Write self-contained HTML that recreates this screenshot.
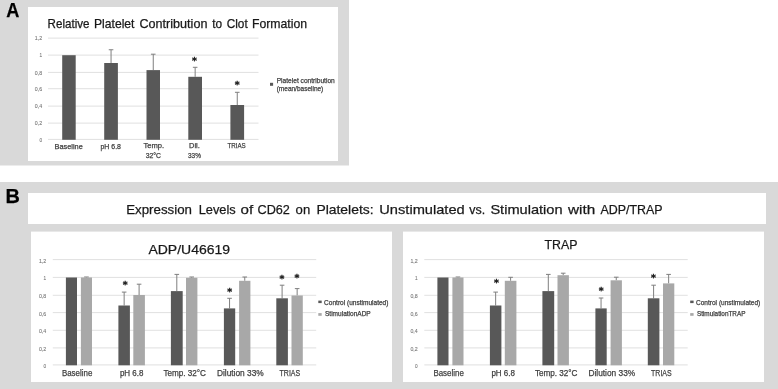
<!DOCTYPE html>
<html lang="en">
<head>
<meta charset="utf-8">
<title>Figure: Platelet contribution and CD62 expression</title>
<style>
html,body{margin:0;padding:0;background:#ffffff;}
body{width:778px;height:389px;overflow:hidden;}
svg{display:block;font-family:'Liberation Sans', Arial, sans-serif;}
</style>
</head>
<body>
<svg width="778" height="389" viewBox="0 0 778 389" style="font-family:'Liberation Sans',Arial,sans-serif">
<rect x="0.00" y="0.00" width="349.00" height="165.50" fill="#d9d9d9"/>
<rect x="0.00" y="182.00" width="778.00" height="207.00" fill="#d9d9d9"/>
<defs><filter id="soft" x="-2%" y="-2%" width="104%" height="104%" filterUnits="objectBoundingBox"><feGaussianBlur stdDeviation="0.32"/></filter></defs>
<g filter="url(#soft)">
<rect x="28.00" y="7.00" width="310.00" height="154.00" fill="#ffffff"/>
<text x="6.20" y="17.10" font-size="20.93" fill="#000" stroke="#000" stroke-width="0.25" font-weight="bold" textLength="13.10" lengthAdjust="spacingAndGlyphs">A</text>
<text x="47.60" y="28.00" font-size="11.92" fill="#1a1a1a" stroke="#1a1a1a" stroke-width="0.25" font-weight="normal" textLength="41.90" lengthAdjust="spacingAndGlyphs">Relative</text>
<text x="94.00" y="28.00" font-size="11.92" fill="#1a1a1a" stroke="#1a1a1a" stroke-width="0.25" font-weight="normal" textLength="40.50" lengthAdjust="spacingAndGlyphs">Platelet</text>
<text x="139.50" y="28.00" font-size="11.92" fill="#1a1a1a" stroke="#1a1a1a" stroke-width="0.25" font-weight="normal" textLength="67.90" lengthAdjust="spacingAndGlyphs">Contribution</text>
<text x="212.30" y="28.00" font-size="11.92" fill="#1a1a1a" stroke="#1a1a1a" stroke-width="0.25" font-weight="normal" textLength="9.90" lengthAdjust="spacingAndGlyphs">to</text>
<text x="226.70" y="28.00" font-size="11.92" fill="#1a1a1a" stroke="#1a1a1a" stroke-width="0.25" font-weight="normal" textLength="21.00" lengthAdjust="spacingAndGlyphs">Clot</text>
<text x="251.90" y="28.00" font-size="11.92" fill="#1a1a1a" stroke="#1a1a1a" stroke-width="0.25" font-weight="normal" textLength="55.20" lengthAdjust="spacingAndGlyphs">Formation</text>
<line x1="48.00" y1="38.10" x2="258.50" y2="38.10" stroke="#dadada" stroke-width="0.85"/>
<text x="34.80" y="40.25" font-size="5.96" fill="#777777" stroke="#777777" stroke-width="0.1" font-weight="normal" textLength="7.30" lengthAdjust="spacingAndGlyphs">1,2</text>
<line x1="48.00" y1="55.10" x2="258.50" y2="55.10" stroke="#dadada" stroke-width="0.85"/>
<text x="39.50" y="57.25" font-size="5.96" fill="#777777" stroke="#777777" stroke-width="0.1" font-weight="normal" textLength="2.60" lengthAdjust="spacingAndGlyphs">1</text>
<line x1="48.00" y1="72.40" x2="258.50" y2="72.40" stroke="#dadada" stroke-width="0.85"/>
<text x="34.80" y="74.55" font-size="5.96" fill="#777777" stroke="#777777" stroke-width="0.1" font-weight="normal" textLength="7.30" lengthAdjust="spacingAndGlyphs">0,8</text>
<line x1="48.00" y1="88.70" x2="258.50" y2="88.70" stroke="#dadada" stroke-width="0.85"/>
<text x="34.80" y="90.85" font-size="5.96" fill="#777777" stroke="#777777" stroke-width="0.1" font-weight="normal" textLength="7.30" lengthAdjust="spacingAndGlyphs">0,6</text>
<line x1="48.00" y1="106.10" x2="258.50" y2="106.10" stroke="#dadada" stroke-width="0.85"/>
<text x="34.80" y="108.25" font-size="5.96" fill="#777777" stroke="#777777" stroke-width="0.1" font-weight="normal" textLength="7.30" lengthAdjust="spacingAndGlyphs">0,4</text>
<line x1="48.00" y1="123.10" x2="258.50" y2="123.10" stroke="#dadada" stroke-width="0.85"/>
<text x="34.80" y="125.25" font-size="5.96" fill="#777777" stroke="#777777" stroke-width="0.1" font-weight="normal" textLength="7.30" lengthAdjust="spacingAndGlyphs">0,2</text>
<line x1="48.00" y1="139.40" x2="258.50" y2="139.40" stroke="#dadada" stroke-width="0.85"/>
<text x="39.50" y="141.55" font-size="5.96" fill="#777777" stroke="#777777" stroke-width="0.1" font-weight="normal" textLength="2.60" lengthAdjust="spacingAndGlyphs">0</text>
<rect x="62.20" y="55.20" width="13.50" height="84.60" fill="#595959"/>
<line x1="111.05" y1="63.00" x2="111.05" y2="49.75" stroke="#7f7f7f" stroke-width="1.0"/>
<line x1="108.75" y1="49.75" x2="113.35" y2="49.75" stroke="#7f7f7f" stroke-width="1.0"/>
<rect x="104.20" y="63.00" width="13.70" height="76.80" fill="#595959"/>
<line x1="153.25" y1="70.10" x2="153.25" y2="54.20" stroke="#7f7f7f" stroke-width="1.0"/>
<line x1="150.95" y1="54.20" x2="155.55" y2="54.20" stroke="#7f7f7f" stroke-width="1.0"/>
<rect x="146.50" y="70.10" width="13.50" height="69.70" fill="#595959"/>
<line x1="195.15" y1="76.80" x2="195.15" y2="67.30" stroke="#7f7f7f" stroke-width="1.0"/>
<line x1="192.85" y1="67.30" x2="197.45" y2="67.30" stroke="#7f7f7f" stroke-width="1.0"/>
<rect x="188.30" y="76.80" width="13.70" height="63.00" fill="#595959"/>
<line x1="237.25" y1="105.00" x2="237.25" y2="92.30" stroke="#7f7f7f" stroke-width="1.0"/>
<line x1="234.95" y1="92.30" x2="239.55" y2="92.30" stroke="#7f7f7f" stroke-width="1.0"/>
<rect x="230.40" y="105.00" width="13.70" height="34.80" fill="#595959"/>
<text x="192.00" y="64.22" font-size="9.32" fill="#111" font-family="DejaVu Sans, sans-serif" font-weight="bold" stroke="#111" stroke-width="0.3">*</text>
<text x="234.80" y="87.62" font-size="9.32" fill="#111" font-family="DejaVu Sans, sans-serif" font-weight="bold" stroke="#111" stroke-width="0.3">*</text>
<text x="54.50" y="148.90" font-size="7.49" fill="#404040" stroke="#404040" stroke-width="0.25" font-weight="normal" textLength="28.30" lengthAdjust="spacingAndGlyphs">Baseline</text>
<text x="100.50" y="148.90" font-size="7.49" fill="#404040" stroke="#404040" stroke-width="0.25" font-weight="normal" textLength="20.50" lengthAdjust="spacingAndGlyphs">pH 6.8</text>
<text x="143.50" y="148.40" font-size="7.49" fill="#404040" stroke="#404040" stroke-width="0.25" font-weight="normal" textLength="20.70" lengthAdjust="spacingAndGlyphs">Temp.</text>
<text x="145.70" y="157.80" font-size="7.49" fill="#404040" stroke="#404040" stroke-width="0.25" font-weight="normal" textLength="15.30" lengthAdjust="spacingAndGlyphs">32°C</text>
<text x="189.00" y="148.40" font-size="7.49" fill="#404040" stroke="#404040" stroke-width="0.25" font-weight="normal" textLength="10.80" lengthAdjust="spacingAndGlyphs">Dil.</text>
<text x="188.00" y="157.80" font-size="7.49" fill="#404040" stroke="#404040" stroke-width="0.25" font-weight="normal" textLength="12.90" lengthAdjust="spacingAndGlyphs">33%</text>
<text x="227.40" y="148.40" font-size="7.49" fill="#404040" stroke="#404040" stroke-width="0.25" font-weight="normal" textLength="18.30" lengthAdjust="spacingAndGlyphs">TRIAS</text>
<rect x="270.00" y="82.80" width="3.10" height="3.00" fill="#595959"/>
<text x="276.70" y="82.90" font-size="6.98" fill="#404040" stroke="#404040" stroke-width="0.25" font-weight="normal" textLength="58.10" lengthAdjust="spacingAndGlyphs">Platelet contribution</text>
<text x="276.70" y="90.60" font-size="6.98" fill="#404040" stroke="#404040" stroke-width="0.25" font-weight="normal" textLength="46.60" lengthAdjust="spacingAndGlyphs">(mean/baseline)</text>
<rect x="28.00" y="193.00" width="738.00" height="31.00" fill="#ffffff"/>
<text x="5.50" y="202.90" font-size="20.35" fill="#000" stroke="#000" stroke-width="0.25" font-weight="bold" textLength="14.40" lengthAdjust="spacingAndGlyphs">B</text>
<text x="126.20" y="213.80" font-size="13.37" fill="#1a1a1a" stroke="#1a1a1a" stroke-width="0.25" font-weight="normal" textLength="65.80" lengthAdjust="spacingAndGlyphs">Expression</text>
<text x="198.70" y="213.80" font-size="13.37" fill="#1a1a1a" stroke="#1a1a1a" stroke-width="0.25" font-weight="normal" textLength="37.00" lengthAdjust="spacingAndGlyphs">Levels</text>
<text x="240.50" y="213.80" font-size="13.37" fill="#1a1a1a" stroke="#1a1a1a" stroke-width="0.25" font-weight="normal" textLength="12.60" lengthAdjust="spacingAndGlyphs">of</text>
<text x="257.50" y="213.80" font-size="13.37" fill="#1a1a1a" stroke="#1a1a1a" stroke-width="0.25" font-weight="normal" textLength="32.40" lengthAdjust="spacingAndGlyphs">CD62</text>
<text x="295.60" y="213.80" font-size="13.37" fill="#1a1a1a" stroke="#1a1a1a" stroke-width="0.25" font-weight="normal" textLength="14.60" lengthAdjust="spacingAndGlyphs">on</text>
<text x="316.40" y="213.80" font-size="13.37" fill="#1a1a1a" stroke="#1a1a1a" stroke-width="0.25" font-weight="normal" textLength="57.20" lengthAdjust="spacingAndGlyphs">Platelets:</text>
<text x="379.30" y="213.80" font-size="13.37" fill="#1a1a1a" stroke="#1a1a1a" stroke-width="0.25" font-weight="normal" textLength="85.40" lengthAdjust="spacingAndGlyphs">Unstimulated</text>
<text x="469.30" y="213.80" font-size="13.37" fill="#1a1a1a" stroke="#1a1a1a" stroke-width="0.25" font-weight="normal" textLength="15.90" lengthAdjust="spacingAndGlyphs">vs.</text>
<text x="490.40" y="213.80" font-size="13.37" fill="#1a1a1a" stroke="#1a1a1a" stroke-width="0.25" font-weight="normal" textLength="72.20" lengthAdjust="spacingAndGlyphs">Stimulation</text>
<text x="568.00" y="213.80" font-size="13.37" fill="#1a1a1a" stroke="#1a1a1a" stroke-width="0.25" font-weight="normal" textLength="27.20" lengthAdjust="spacingAndGlyphs">with</text>
<text x="600.40" y="213.80" font-size="13.37" fill="#1a1a1a" stroke="#1a1a1a" stroke-width="0.25" font-weight="normal" textLength="62.20" lengthAdjust="spacingAndGlyphs">ADP/TRAP</text>
<rect x="31.00" y="231.60" width="361.00" height="150.40" fill="#ffffff"/>
<text x="148.40" y="254.00" font-size="13.66" fill="#1a1a1a" stroke="#1a1a1a" stroke-width="0.25" font-weight="normal" textLength="81.70" lengthAdjust="spacingAndGlyphs">ADP/U46619</text>
<line x1="52.80" y1="259.60" x2="316.20" y2="259.60" stroke="#dadada" stroke-width="0.85"/>
<text x="38.90" y="262.60" font-size="5.96" fill="#777777" stroke="#777777" stroke-width="0.1" font-weight="normal" textLength="7.30" lengthAdjust="spacingAndGlyphs">1,2</text>
<line x1="52.80" y1="277.40" x2="316.20" y2="277.40" stroke="#dadada" stroke-width="0.85"/>
<text x="43.60" y="280.40" font-size="5.96" fill="#777777" stroke="#777777" stroke-width="0.1" font-weight="normal" textLength="2.60" lengthAdjust="spacingAndGlyphs">1</text>
<line x1="52.80" y1="295.30" x2="316.20" y2="295.30" stroke="#dadada" stroke-width="0.85"/>
<text x="38.90" y="298.30" font-size="5.96" fill="#777777" stroke="#777777" stroke-width="0.1" font-weight="normal" textLength="7.30" lengthAdjust="spacingAndGlyphs">0,8</text>
<line x1="52.80" y1="312.60" x2="316.20" y2="312.60" stroke="#dadada" stroke-width="0.85"/>
<text x="38.90" y="315.60" font-size="5.96" fill="#777777" stroke="#777777" stroke-width="0.1" font-weight="normal" textLength="7.30" lengthAdjust="spacingAndGlyphs">0,6</text>
<line x1="52.80" y1="330.30" x2="316.20" y2="330.30" stroke="#dadada" stroke-width="0.85"/>
<text x="38.90" y="333.30" font-size="5.96" fill="#777777" stroke="#777777" stroke-width="0.1" font-weight="normal" textLength="7.30" lengthAdjust="spacingAndGlyphs">0,4</text>
<line x1="52.80" y1="347.90" x2="316.20" y2="347.90" stroke="#dadada" stroke-width="0.85"/>
<text x="38.90" y="350.90" font-size="5.96" fill="#777777" stroke="#777777" stroke-width="0.1" font-weight="normal" textLength="7.30" lengthAdjust="spacingAndGlyphs">0,2</text>
<line x1="52.80" y1="364.90" x2="316.20" y2="364.90" stroke="#dadada" stroke-width="0.85"/>
<text x="43.60" y="367.90" font-size="5.96" fill="#777777" stroke="#777777" stroke-width="0.1" font-weight="normal" textLength="2.60" lengthAdjust="spacingAndGlyphs">0</text>
<rect x="65.90" y="277.50" width="11.10" height="87.80" fill="#595959"/>
<line x1="86.45" y1="277.50" x2="86.45" y2="277.00" stroke="#7f7f7f" stroke-width="1.0"/>
<line x1="84.15" y1="277.00" x2="88.75" y2="277.00" stroke="#7f7f7f" stroke-width="1.0"/>
<rect x="80.90" y="277.50" width="11.10" height="87.80" fill="#a8a8a8"/>
<line x1="124.15" y1="305.50" x2="124.15" y2="292.10" stroke="#7f7f7f" stroke-width="1.0"/>
<line x1="121.85" y1="292.10" x2="126.45" y2="292.10" stroke="#7f7f7f" stroke-width="1.0"/>
<rect x="118.40" y="305.50" width="11.50" height="59.80" fill="#595959"/>
<line x1="139.10" y1="295.00" x2="139.10" y2="284.20" stroke="#7f7f7f" stroke-width="1.0"/>
<line x1="136.80" y1="284.20" x2="141.40" y2="284.20" stroke="#7f7f7f" stroke-width="1.0"/>
<rect x="133.30" y="295.00" width="11.60" height="70.30" fill="#a8a8a8"/>
<line x1="176.80" y1="291.10" x2="176.80" y2="274.40" stroke="#7f7f7f" stroke-width="1.0"/>
<line x1="174.50" y1="274.40" x2="179.10" y2="274.40" stroke="#7f7f7f" stroke-width="1.0"/>
<rect x="170.90" y="291.10" width="11.80" height="74.20" fill="#595959"/>
<line x1="191.70" y1="277.80" x2="191.70" y2="277.00" stroke="#7f7f7f" stroke-width="1.0"/>
<line x1="189.40" y1="277.00" x2="194.00" y2="277.00" stroke="#7f7f7f" stroke-width="1.0"/>
<rect x="186.00" y="277.80" width="11.40" height="87.50" fill="#a8a8a8"/>
<line x1="229.55" y1="308.40" x2="229.55" y2="298.30" stroke="#7f7f7f" stroke-width="1.0"/>
<line x1="227.25" y1="298.30" x2="231.85" y2="298.30" stroke="#7f7f7f" stroke-width="1.0"/>
<rect x="223.90" y="308.40" width="11.30" height="56.90" fill="#595959"/>
<line x1="244.75" y1="280.80" x2="244.75" y2="277.00" stroke="#7f7f7f" stroke-width="1.0"/>
<line x1="242.45" y1="277.00" x2="247.05" y2="277.00" stroke="#7f7f7f" stroke-width="1.0"/>
<rect x="239.10" y="280.80" width="11.30" height="84.50" fill="#a8a8a8"/>
<line x1="282.10" y1="298.30" x2="282.10" y2="285.20" stroke="#7f7f7f" stroke-width="1.0"/>
<line x1="279.80" y1="285.20" x2="284.40" y2="285.20" stroke="#7f7f7f" stroke-width="1.0"/>
<rect x="276.30" y="298.30" width="11.60" height="67.00" fill="#595959"/>
<line x1="297.15" y1="295.50" x2="297.15" y2="288.60" stroke="#7f7f7f" stroke-width="1.0"/>
<line x1="294.85" y1="288.60" x2="299.45" y2="288.60" stroke="#7f7f7f" stroke-width="1.0"/>
<rect x="291.50" y="295.50" width="11.30" height="69.80" fill="#a8a8a8"/>
<text x="122.70" y="287.52" font-size="9.32" fill="#111" font-family="DejaVu Sans, sans-serif" font-weight="bold" stroke="#111" stroke-width="0.3">*</text>
<text x="227.20" y="295.22" font-size="9.32" fill="#111" font-family="DejaVu Sans, sans-serif" font-weight="bold" stroke="#111" stroke-width="0.3">*</text>
<text x="279.60" y="282.32" font-size="9.32" fill="#111" font-family="DejaVu Sans, sans-serif" font-weight="bold" stroke="#111" stroke-width="0.3">*</text>
<text x="294.60" y="281.32" font-size="9.32" fill="#111" font-family="DejaVu Sans, sans-serif" font-weight="bold" stroke="#111" stroke-width="0.3">*</text>
<text x="61.90" y="375.60" font-size="9.16" fill="#404040" stroke="#404040" stroke-width="0.25" font-weight="normal" textLength="30.40" lengthAdjust="spacingAndGlyphs">Baseline</text>
<text x="119.90" y="375.60" font-size="9.16" fill="#404040" stroke="#404040" stroke-width="0.25" font-weight="normal" textLength="23.60" lengthAdjust="spacingAndGlyphs">pH 6.8</text>
<text x="163.40" y="375.60" font-size="9.16" fill="#404040" stroke="#404040" stroke-width="0.25" font-weight="normal" textLength="42.60" lengthAdjust="spacingAndGlyphs">Temp. 32°C</text>
<text x="216.90" y="375.60" font-size="9.16" fill="#404040" stroke="#404040" stroke-width="0.25" font-weight="normal" textLength="46.90" lengthAdjust="spacingAndGlyphs">Dilution 33%</text>
<text x="279.60" y="375.60" font-size="9.16" fill="#404040" stroke="#404040" stroke-width="0.25" font-weight="normal" textLength="20.60" lengthAdjust="spacingAndGlyphs">TRIAS</text>
<rect x="318.30" y="300.60" width="3.40" height="2.50" fill="#595959"/>
<text x="324.10" y="304.60" font-size="6.83" fill="#404040" stroke="#404040" stroke-width="0.25" font-weight="normal" textLength="64.30" lengthAdjust="spacingAndGlyphs">Control (unstimulated)</text>
<rect x="318.30" y="313.10" width="3.40" height="2.70" fill="#a8a8a8"/>
<text x="325.00" y="316.40" font-size="6.83" fill="#404040" stroke="#404040" stroke-width="0.25" font-weight="normal" textLength="45.70" lengthAdjust="spacingAndGlyphs">StimulationADP</text>
<rect x="403.00" y="231.60" width="361.00" height="150.40" fill="#ffffff"/>
<text x="544.40" y="248.60" font-size="13.66" fill="#1a1a1a" stroke="#1a1a1a" stroke-width="0.25" font-weight="normal" textLength="33.00" lengthAdjust="spacingAndGlyphs">TRAP</text>
<line x1="424.30" y1="259.60" x2="687.70" y2="259.60" stroke="#dadada" stroke-width="0.85"/>
<text x="410.40" y="262.60" font-size="5.96" fill="#777777" stroke="#777777" stroke-width="0.1" font-weight="normal" textLength="7.30" lengthAdjust="spacingAndGlyphs">1,2</text>
<line x1="424.30" y1="277.40" x2="687.70" y2="277.40" stroke="#dadada" stroke-width="0.85"/>
<text x="415.10" y="280.40" font-size="5.96" fill="#777777" stroke="#777777" stroke-width="0.1" font-weight="normal" textLength="2.60" lengthAdjust="spacingAndGlyphs">1</text>
<line x1="424.30" y1="295.30" x2="687.70" y2="295.30" stroke="#dadada" stroke-width="0.85"/>
<text x="410.40" y="298.30" font-size="5.96" fill="#777777" stroke="#777777" stroke-width="0.1" font-weight="normal" textLength="7.30" lengthAdjust="spacingAndGlyphs">0,8</text>
<line x1="424.30" y1="312.60" x2="687.70" y2="312.60" stroke="#dadada" stroke-width="0.85"/>
<text x="410.40" y="315.60" font-size="5.96" fill="#777777" stroke="#777777" stroke-width="0.1" font-weight="normal" textLength="7.30" lengthAdjust="spacingAndGlyphs">0,6</text>
<line x1="424.30" y1="330.30" x2="687.70" y2="330.30" stroke="#dadada" stroke-width="0.85"/>
<text x="410.40" y="333.30" font-size="5.96" fill="#777777" stroke="#777777" stroke-width="0.1" font-weight="normal" textLength="7.30" lengthAdjust="spacingAndGlyphs">0,4</text>
<line x1="424.30" y1="347.90" x2="687.70" y2="347.90" stroke="#dadada" stroke-width="0.85"/>
<text x="410.40" y="350.90" font-size="5.96" fill="#777777" stroke="#777777" stroke-width="0.1" font-weight="normal" textLength="7.30" lengthAdjust="spacingAndGlyphs">0,2</text>
<line x1="424.30" y1="364.90" x2="687.70" y2="364.90" stroke="#dadada" stroke-width="0.85"/>
<text x="415.10" y="367.90" font-size="5.96" fill="#777777" stroke="#777777" stroke-width="0.1" font-weight="normal" textLength="2.60" lengthAdjust="spacingAndGlyphs">0</text>
<rect x="437.40" y="277.50" width="11.10" height="87.80" fill="#595959"/>
<line x1="457.95" y1="277.50" x2="457.95" y2="277.00" stroke="#7f7f7f" stroke-width="1.0"/>
<line x1="455.65" y1="277.00" x2="460.25" y2="277.00" stroke="#7f7f7f" stroke-width="1.0"/>
<rect x="452.40" y="277.50" width="11.10" height="87.80" fill="#a8a8a8"/>
<line x1="495.65" y1="305.50" x2="495.65" y2="292.10" stroke="#7f7f7f" stroke-width="1.0"/>
<line x1="493.35" y1="292.10" x2="497.95" y2="292.10" stroke="#7f7f7f" stroke-width="1.0"/>
<rect x="489.90" y="305.50" width="11.50" height="59.80" fill="#595959"/>
<line x1="510.60" y1="280.80" x2="510.60" y2="277.30" stroke="#7f7f7f" stroke-width="1.0"/>
<line x1="508.30" y1="277.30" x2="512.90" y2="277.30" stroke="#7f7f7f" stroke-width="1.0"/>
<rect x="504.80" y="280.80" width="11.60" height="84.50" fill="#a8a8a8"/>
<line x1="548.30" y1="291.10" x2="548.30" y2="274.40" stroke="#7f7f7f" stroke-width="1.0"/>
<line x1="546.00" y1="274.40" x2="550.60" y2="274.40" stroke="#7f7f7f" stroke-width="1.0"/>
<rect x="542.40" y="291.10" width="11.80" height="74.20" fill="#595959"/>
<line x1="563.20" y1="275.20" x2="563.20" y2="273.20" stroke="#7f7f7f" stroke-width="1.0"/>
<line x1="560.90" y1="273.20" x2="565.50" y2="273.20" stroke="#7f7f7f" stroke-width="1.0"/>
<rect x="557.50" y="275.20" width="11.40" height="90.10" fill="#a8a8a8"/>
<line x1="601.05" y1="308.40" x2="601.05" y2="298.00" stroke="#7f7f7f" stroke-width="1.0"/>
<line x1="598.75" y1="298.00" x2="603.35" y2="298.00" stroke="#7f7f7f" stroke-width="1.0"/>
<rect x="595.40" y="308.40" width="11.30" height="56.90" fill="#595959"/>
<line x1="616.25" y1="280.30" x2="616.25" y2="277.20" stroke="#7f7f7f" stroke-width="1.0"/>
<line x1="613.95" y1="277.20" x2="618.55" y2="277.20" stroke="#7f7f7f" stroke-width="1.0"/>
<rect x="610.60" y="280.30" width="11.30" height="85.00" fill="#a8a8a8"/>
<line x1="653.60" y1="298.30" x2="653.60" y2="285.20" stroke="#7f7f7f" stroke-width="1.0"/>
<line x1="651.30" y1="285.20" x2="655.90" y2="285.20" stroke="#7f7f7f" stroke-width="1.0"/>
<rect x="647.80" y="298.30" width="11.60" height="67.00" fill="#595959"/>
<line x1="668.65" y1="283.40" x2="668.65" y2="274.40" stroke="#7f7f7f" stroke-width="1.0"/>
<line x1="666.35" y1="274.40" x2="670.95" y2="274.40" stroke="#7f7f7f" stroke-width="1.0"/>
<rect x="663.00" y="283.40" width="11.30" height="81.90" fill="#a8a8a8"/>
<text x="493.90" y="286.22" font-size="9.32" fill="#111" font-family="DejaVu Sans, sans-serif" font-weight="bold" stroke="#111" stroke-width="0.3">*</text>
<text x="598.70" y="294.12" font-size="9.32" fill="#111" font-family="DejaVu Sans, sans-serif" font-weight="bold" stroke="#111" stroke-width="0.3">*</text>
<text x="650.90" y="281.32" font-size="9.32" fill="#111" font-family="DejaVu Sans, sans-serif" font-weight="bold" stroke="#111" stroke-width="0.3">*</text>
<text x="433.40" y="375.60" font-size="9.16" fill="#404040" stroke="#404040" stroke-width="0.25" font-weight="normal" textLength="30.40" lengthAdjust="spacingAndGlyphs">Baseline</text>
<text x="491.40" y="375.60" font-size="9.16" fill="#404040" stroke="#404040" stroke-width="0.25" font-weight="normal" textLength="23.60" lengthAdjust="spacingAndGlyphs">pH 6.8</text>
<text x="534.90" y="375.60" font-size="9.16" fill="#404040" stroke="#404040" stroke-width="0.25" font-weight="normal" textLength="42.60" lengthAdjust="spacingAndGlyphs">Temp. 32°C</text>
<text x="588.40" y="375.60" font-size="9.16" fill="#404040" stroke="#404040" stroke-width="0.25" font-weight="normal" textLength="46.90" lengthAdjust="spacingAndGlyphs">Dilution 33%</text>
<text x="651.10" y="375.60" font-size="9.16" fill="#404040" stroke="#404040" stroke-width="0.25" font-weight="normal" textLength="20.60" lengthAdjust="spacingAndGlyphs">TRIAS</text>
<rect x="690.20" y="300.60" width="3.40" height="2.50" fill="#595959"/>
<text x="696.00" y="304.60" font-size="6.83" fill="#404040" stroke="#404040" stroke-width="0.25" font-weight="normal" textLength="64.30" lengthAdjust="spacingAndGlyphs">Control (unstimulated)</text>
<rect x="690.20" y="313.10" width="3.40" height="2.70" fill="#a8a8a8"/>
<text x="696.90" y="316.40" font-size="6.83" fill="#404040" stroke="#404040" stroke-width="0.25" font-weight="normal" textLength="48.60" lengthAdjust="spacingAndGlyphs">StimulationTRAP</text>
</g>
</svg>
</body>
</html>
